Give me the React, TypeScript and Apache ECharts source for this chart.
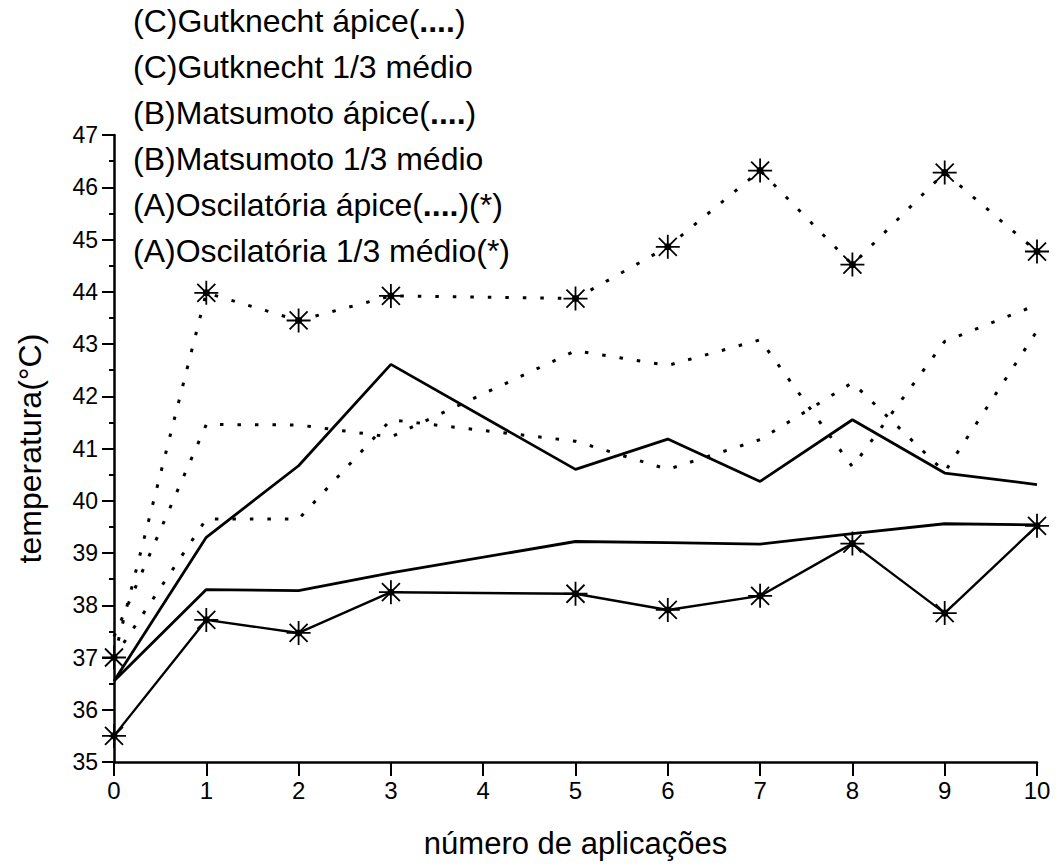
import React, { useEffect, useRef } from "react";
import * as echarts from "echarts";

const xValues = [0, 1, 2, 3, 5, 6, 7, 8, 9, 10];
const gutknechtApice = [37.4, 41.46, 41.45, 41.22, 42.87, 42.59, 43.08, 40.65, 43.05, 43.75];
const gutknechtMedio = [36.55, 39.3, 40.67, 42.61, 40.6, 41.18, 40.37, 41.55, 40.53, 40.31];
const matsumotoApice = [37.0, 39.65, 39.65, 41.55, 41.14, 40.6, 41.17, 42.26, 40.55, 43.25];
const matsumotoMedio = [36.55, 38.3, 38.28, 38.62, 39.22, 39.2, 39.17, 39.37, 39.56, 39.54];
const oscilatoriaApice = [37.0, 43.98, 43.45, 43.92, 43.87, 44.86, 46.32, 44.52, 46.28, 44.77];
const oscilatoriaMedio = [35.5, 37.72, 37.47, 38.25, 38.22, 37.91, 38.18, 39.18, 37.85, 39.52];

const seriesNames = [
  "(C)Gutknecht ápice(....)",
  "(C)Gutknecht 1/3 médio",
  "(B)Matsumoto ápice(....)",
  "(B)Matsumoto 1/3 médio",
  "(A)Oscilatória ápice(....)(*)",
  "(A)Oscilatória 1/3 médio(*)",
];
const xTicks = [0, 1, 2, 3, 4, 5, 6, 7, 8, 9, 10];
const xTitle = "número de aplicações";
const yTitle = "temperatura(°C)";

const FONT = "'Liberation Sans', Arial, sans-serif";
const ASTERISK =
  "path://M0,-10 L0,10 M-10,0 L10,0 M-7.5,-7.5 L7.5,7.5 M-7.5,7.5 L7.5,-7.5 M-2,-2 L2,-2 L2,2 L-2,2 Z";

function pairs(vals: number[]) {
  return xValues.map((x, i) => [x, vals[i]]);
}

export default function App() {
  const ref = useRef<HTMLDivElement>(null);
  useEffect(() => {
    if (!ref.current) return;
    const chart = echarts.init(ref.current, null, { renderer: "svg" });
    const dotted = { color: "#000", width: 3, type: [3.5, 14] as any, cap: "butt" as any };
    const solid = { color: "#000", width: 2.8, type: "solid" as any };
    const plain = (name: string, vals: number[], ls: any) => ({
      name,
      type: "line",
      data: pairs(vals),
      showSymbol: false,
      symbol: "none",
      lineStyle: ls,
      itemStyle: { color: "#000" },
    });
    const starred = (name: string, vals: number[], ls: any) => ({
      name,
      type: "line",
      data: pairs(vals),
      symbol: ASTERISK,
      symbolSize: 24,
      showSymbol: true,
      lineStyle: ls,
      itemStyle: { color: "#000", borderColor: "#000", borderWidth: 1.8 },
    });
    chart.setOption({
      animation: false,
      backgroundColor: "#fff",
      textStyle: { fontFamily: FONT, color: "#000" },
      grid: { left: 114, right: 21, top: 135, bottom: 106 },
      legend: {
        orient: "vertical",
        left: 128,
        top: 3,
        padding: 0,
        itemGap: 10,
        itemWidth: 0,
        itemHeight: 0,
        icon: "none",
        selectedMode: false,
        data: seriesNames,
        formatter: (n: string) => n.replace("(....)", "({b|....})"),
        textStyle: {
          fontFamily: FONT,
          fontSize: 32,
          lineHeight: 36,
          color: "#000",
          rich: { b: { fontFamily: FONT, fontSize: 32, fontWeight: "bold", color: "#000", lineHeight: 36 } },
        },
      },
      xAxis: {
        type: "value",
        min: 0,
        max: 10,
        interval: 1,
        name: xTitle,
        nameLocation: "middle",
        nameGap: 66,
        nameTextStyle: { fontFamily: FONT, fontSize: 31, color: "#000" },
        axisLine: { show: true, onZero: false, lineStyle: { color: "#000", width: 2.5 } },
        axisTick: { show: true, length: 14, lineStyle: { color: "#000", width: 2 } },
        axisLabel: {
          fontFamily: FONT,
          fontSize: 24,
          color: "#000",
          margin: 16,
          formatter: (v: number) => (xTicks.includes(v) ? String(v) : ""),
        },
        splitLine: { show: false },
      },
      yAxis: {
        type: "value",
        min: 35,
        max: 47,
        interval: 1,
        name: yTitle,
        nameLocation: "middle",
        nameRotate: 90,
        nameGap: 68,
        nameTextStyle: { fontFamily: FONT, fontSize: 32, color: "#000" },
        axisLine: { show: true, onZero: false, lineStyle: { color: "#000", width: 2.5 } },
        axisTick: { show: true, length: 12, lineStyle: { color: "#000", width: 2 } },
        minorTick: { show: true, splitNumber: 2, length: 5, lineStyle: { color: "#000", width: 2 } },
        axisLabel: { fontFamily: FONT, fontSize: 23, color: "#000", margin: 16 },
        splitLine: { show: false },
      },
      series: [
        plain(seriesNames[0], gutknechtApice, dotted),
        plain(seriesNames[1], gutknechtMedio, solid),
        plain(seriesNames[2], matsumotoApice, dotted),
        plain(seriesNames[3], matsumotoMedio, solid),
        starred(seriesNames[4], oscilatoriaApice, dotted),
        starred(seriesNames[5], oscilatoriaMedio, { color: "#000", width: 2.4, type: "solid" }),
      ],
    });
    return () => chart.dispose();
  }, []);
  return (
    <div
      ref={ref}
      style={{ position: "fixed", left: 0, top: 0, width: 1058, height: 868, background: "#fff" }}
    />
  );
}
